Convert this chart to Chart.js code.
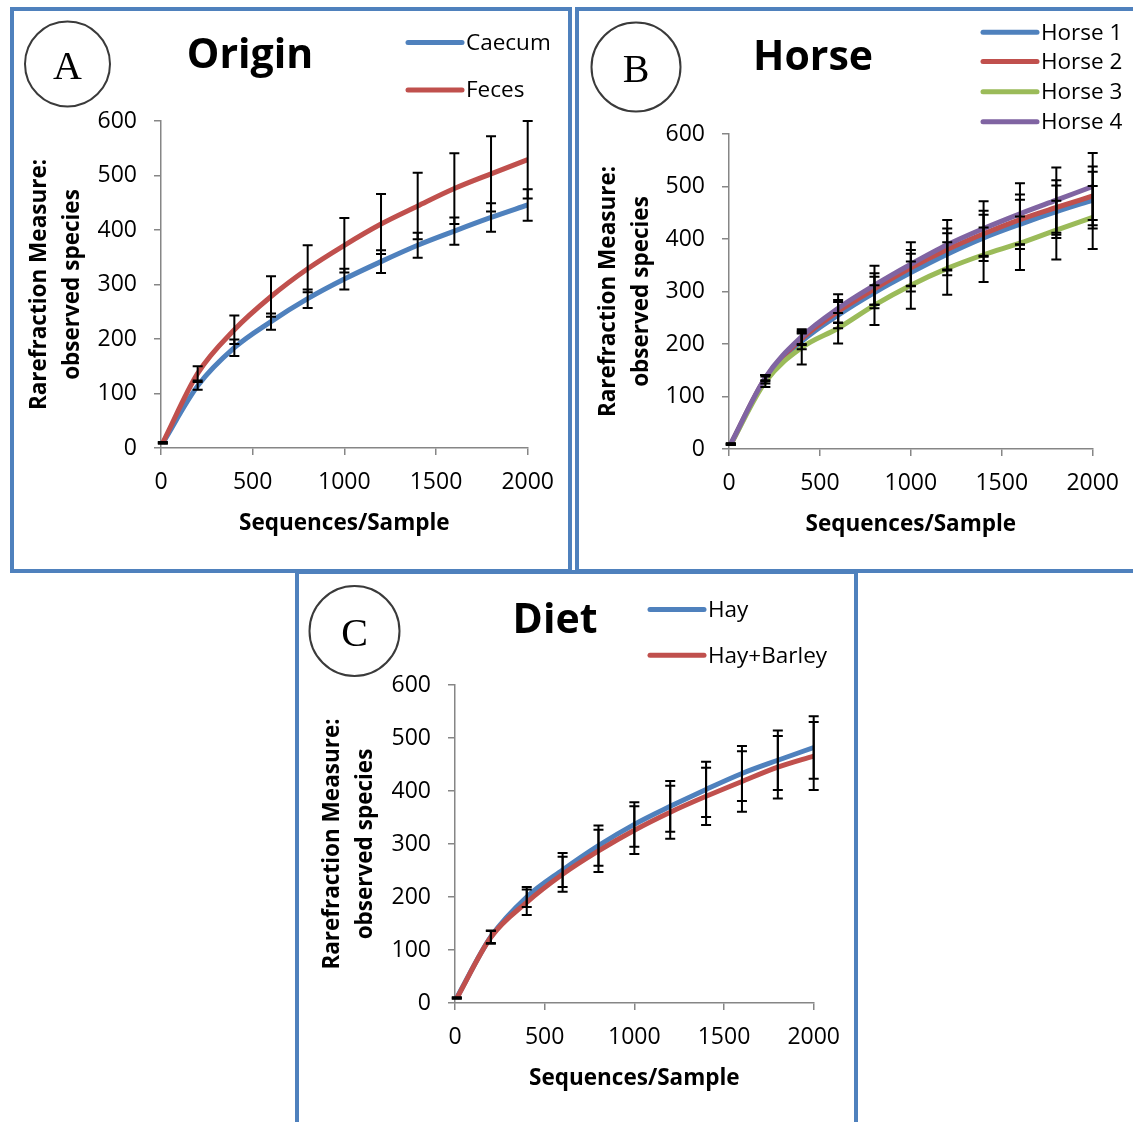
<!DOCTYPE html>
<html>
<head>
<meta charset="utf-8">
<script src="https://cdn.jsdelivr.net/npm/chart.js@4.4.1/dist/chart.umd.min.js"></script>
<style>
	body { margin: 0; background: #fff; }
	#page { position: relative; width: 1133px; height: 1122px; overflow: hidden; background: #fff; }
	.box { position: absolute; box-sizing: border-box; border: 4px solid #4F81BD; }
	canvas { position: absolute; }
</style>
</head>
<body>
<div id="page">
	<div class="box" style="left:10px;top:7px;width:562px;height:566px"></div>
	<div class="box" style="left:575px;top:7px;width:570px;height:566px"></div>
	<div class="box" style="left:295px;top:570px;width:563px;height:560px"></div>
	<canvas id="chartA" width="554" height="558" style="left:14px;top:11px"></canvas>
	<canvas id="chartB" width="554" height="558" style="left:579px;top:11px"></canvas>
	<canvas id="chartC" width="555" height="548" style="left:299px;top:574px"></canvas>
</div>
<script>
// sequences per sample (x values shared by every curve)
const xs = [10, 200, 400, 600, 800, 1000, 1200, 1400, 1600, 1800, 2000];
const xTicks = [0, 500, 1000, 1500, 2000];
const yTicks = [0, 100, 200, 300, 400, 500, 600];

// A - origin
const caecum = [9, 114, 184, 232, 274, 310, 342, 372, 398, 423, 446];
const caecumSd = [1, 7, 15, 15, 17, 19, 21, 23, 25, 26, 29];
const feces = [10, 137, 217, 278, 329, 372, 411, 444, 476, 503, 529];
const fecesSd = [1, 13, 26, 37, 43, 50, 55, 61, 65, 69, 71];

// B - horse
const horse1 = [9, 133, 205, 255, 298, 336, 371, 402, 428, 452, 474];
const horse1Sd = [1, 8, 15, 25, 30, 36, 40, 44, 47, 50, 54];
const horse2 = [9, 135, 210, 262, 305, 345, 380, 410, 437, 460, 482];
const horse2Sd = [1, 6, 12, 22, 30, 34, 40, 44, 48, 52, 56];
const horse3 = [9, 128, 193, 230, 274, 312, 344, 370, 392, 417, 441];
const horse3Sd = [1, 10, 32, 29, 38, 45, 50, 52, 51, 56, 60];
const horse4 = [10, 136, 214, 268, 312, 352, 389, 420, 448, 474, 500];
const horse4Sd = [1, 5, 14, 27, 37, 42, 47, 52, 58, 62, 64];

// C - diet
const hay = [10, 125, 200, 251, 297, 337, 371, 403, 433, 458, 482];
const haySd = [1, 12, 19, 32, 38, 42, 48, 52, 52, 56, 59];
const hayBarley = [9, 124, 190, 243, 287, 326, 360, 390, 418, 445, 466];
const hayBarleySd = [1, 12, 24, 33, 40, 45, 50, 54, 57, 59, 64];

const BLUE = '#4F81BD', RED = '#C0504D', GREEN = '#9BBB59', PURPLE = '#8064A2';
const FONT = "'Open Sans', sans-serif";

const errorBars = {
	id: 'errorBars',
	afterDatasetsDraw(chart) {
		const ctx = chart.ctx;
		const x = chart.scales.x, y = chart.scales.y;
		ctx.save();
		ctx.strokeStyle = '#000';
		ctx.lineWidth = 2;
		chart.data.datasets.forEach(function(ds) {
			ds.data.forEach(function(pt, j) {
				let e = ds.sd[j];
				let px = x.getPixelForValue(pt.x);
				let top = y.getPixelForValue(pt.y + e);
				let bot = y.getPixelForValue(pt.y - e);
				ctx.beginPath();
				ctx.moveTo(px, top); ctx.lineTo(px, bot);
				ctx.moveTo(px - 5, top); ctx.lineTo(px + 5, top);
				ctx.moveTo(px - 5, bot); ctx.lineTo(px + 5, bot);
				ctx.stroke();
			});
		});
		ctx.restore();
	}
};

function makeChart(id, p) {
	const canvas = document.getElementById(id);
	const W = canvas.width, H = canvas.height;

	// circle letter, title and legend
	const decor = {
		id: 'decor',
		afterDraw(chart) {
			const ctx = chart.ctx;
			ctx.save();
			ctx.beginPath();
			ctx.arc(p.circle[0], p.circle[1], p.circle[2], 0, Math.PI * 2);
			ctx.strokeStyle = '#3a3a3a';
			ctx.lineWidth = 2;
			ctx.stroke();
			ctx.fillStyle = '#000';
			ctx.font = "40px 'Liberation Serif', serif";
			ctx.textAlign = 'center';
			ctx.textBaseline = 'alphabetic';
			ctx.fillText(p.letter, p.circle[0], p.circle[1] + 15);

			ctx.font = 'bold 41px ' + FONT;
			ctx.fillText(p.title, p.titlePos[0], p.titlePos[1]);

			ctx.font = '22.5px ' + FONT;
			ctx.textAlign = 'left';
			ctx.textBaseline = 'middle';
			p.series.forEach(function(s, i) {
				let ly = p.legend.rows[i];
				ctx.beginPath();
				ctx.moveTo(p.legend.x0, ly);
				ctx.lineTo(p.legend.x1, ly);
				ctx.strokeStyle = s.color;
				ctx.lineWidth = 5;
				ctx.lineCap = 'round';
				ctx.stroke();
				ctx.fillStyle = '#000';
				ctx.fillText(s.name, p.legend.x1 + 4, ly + 1);
			});
			ctx.restore();
		}
	};

	const datasets = p.series.map(function(s, i) {
		return {
			label: s.name,
			data: xs.map(function(x, j) { return {x: x, y: s.values[j]}; }),
			sd: s.sd,
			borderColor: s.color,
			backgroundColor: s.color,
			borderWidth: 5,
			pointRadius: 0,
			cubicInterpolationMode: 'monotone',
			fill: false,
			order: p.series.length - i
		};
	});

	new Chart(canvas, {
		type: 'line',
		data: { datasets: datasets },
		options: {
			responsive: false,
			animation: false,
			events: [],
			layout: { padding: { left: 0, top: p.area.top, right: W - p.area.right, bottom: H - p.area.bottom - 100 } },
			plugins: { legend: { display: false }, tooltip: { enabled: false } },
			scales: {
				x: {
					type: 'linear', min: 0, max: 2000,
					afterBuildTicks: function(s) { s.ticks = xTicks.map(function(v) { return {value: v}; }); },
					ticks: { font: { family: FONT, size: 23 }, color: '#000', padding: 14, maxRotation: 0, autoSkip: false, callback: function(v) { return String(v); } },
					grid: { drawOnChartArea: false, tickLength: 7, color: '#868686', lineWidth: 1.5 },
					border: { color: '#868686', width: 1.5 },
					title: { display: true, text: 'Sequences/Sample', color: '#000', font: { family: FONT, size: 22.5, weight: 'bold' }, padding: { top: 0, bottom: 11 } },
					afterFit: function(s) { s.height = 100; }
				},
				y: {
					type: 'linear', min: 0, max: 600,
					afterBuildTicks: function(s) { s.ticks = yTicks.map(function(v) { return {value: v}; }); },
					ticks: { font: { family: FONT, size: 23 }, color: '#000', padding: 17, autoSkip: false, callback: function(v) { return String(v); } },
					grid: { drawOnChartArea: false, tickLength: 7, color: '#868686', lineWidth: 1.5 },
					border: { color: '#868686', width: 1.5 },
					title: { display: true, text: ['Rarefraction Measure:', 'observed species'], color: '#000', font: { family: FONT, size: 22.5, weight: 'bold', lineHeight: '33px' }, padding: { top: p.yTitlePad, bottom: 0 } },
					afterFit: function(s) { s.width = p.area.left; }
				}
			}
		},
		plugins: [errorBars, decor]
	});
}

makeChart('chartA', {
	letter: 'A', title: 'Origin',
	circle: [53.5, 53, 42.5], titlePos: [236, 57],
	area: { left: 147, top: 110, right: 515, bottom: 437 }, yTitlePad: 9,
	legend: { x0: 394, x1: 448, rows: [31.5, 79] },
	series: [
		{ name: 'Caecum', values: caecum, sd: caecumSd, color: BLUE },
		{ name: 'Feces', values: feces, sd: fecesSd, color: RED }
	]
});

makeChart('chartB', {
	letter: 'B', title: 'Horse',
	circle: [57, 56, 44.5], titlePos: [234, 59],
	area: { left: 150, top: 123, right: 518, bottom: 438 }, yTitlePad: 13.5,
	legend: { x0: 404, x1: 458, rows: [21.3, 50.6, 80.7, 110.7] },
	series: [
		{ name: 'Horse 1', values: horse1, sd: horse1Sd, color: BLUE },
		{ name: 'Horse 2', values: horse2, sd: horse2Sd, color: RED },
		{ name: 'Horse 3', values: horse3, sd: horse3Sd, color: GREEN },
		{ name: 'Horse 4', values: horse4, sd: horse4Sd, color: PURPLE }
	]
});

makeChart('chartC', {
	letter: 'C', title: 'Diet',
	circle: [55.5, 57, 45], titlePos: [256, 59],
	area: { left: 156, top: 111, right: 515, bottom: 429 }, yTitlePad: 17,
	legend: { x0: 351, x1: 405, rows: [35.4, 81.2] },
	series: [
		{ name: 'Hay', values: hay, sd: haySd, color: BLUE },
		{ name: 'Hay+Barley', values: hayBarley, sd: hayBarleySd, color: RED }
	]
});
</script>
</body>
</html>
